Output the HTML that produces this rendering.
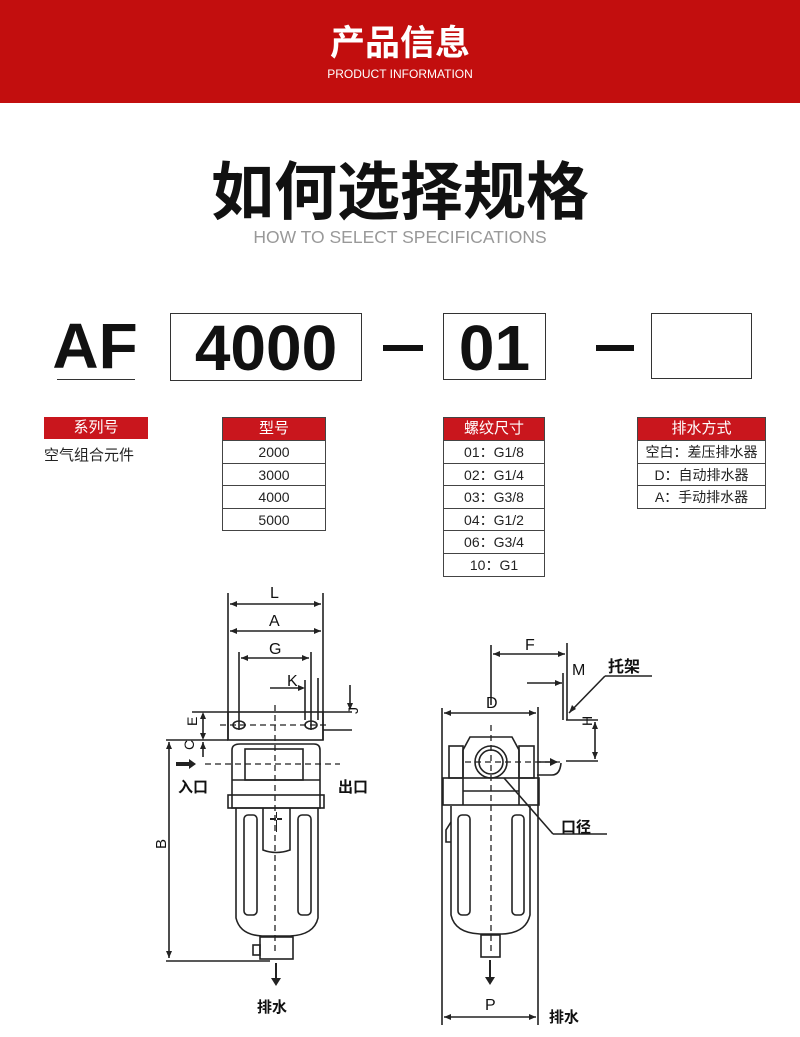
<!DOCTYPE html>
<html><head><meta charset="utf-8"><style>
body{margin:0;width:800px;height:1037px;background:#fff;position:relative;overflow:hidden;font-family:"Liberation Sans","Noto Sans CJK SC",sans-serif;}
.a{position:absolute;}
.hdr{left:0;top:0;width:800px;height:103px;background:#c20e0e;}
.box{position:absolute;border:1px solid #333;box-sizing:border-box;}
.big{font-weight:bold;font-size:64px;line-height:1;text-align:center;color:#111;}
.tb{position:absolute;border:1px solid #444;box-sizing:border-box;font-size:14px;color:#222;}
.tb div{height:22.6px;line-height:22px;border-top:1px solid #444;text-align:center;box-sizing:border-box;}
.tb div.h{background:#c9161d;color:#fff;border-top:none;font-size:15px;height:22px;}
</style></head><body>
<div class="a hdr"></div>
<div class="a" style="left:0;width:800px;top:22px;text-align:center;color:#fff;font-size:35px;font-weight:bold;line-height:44px;">产品信息</div>
<div class="a" style="left:0;width:800px;top:67px;text-align:center;color:#fff;font-size:12px;">PRODUCT INFORMATION</div>
<div class="a" style="left:0;width:800px;top:157px;text-align:center;color:#111;font-size:63px;font-weight:bold;line-height:72px;">如何选择规格</div>
<div class="a" style="left:0;width:800px;top:227px;text-align:center;color:#999;font-size:17.5px;">HOW TO SELECT SPECIFICATIONS</div>

<div class="a big" style="left:50px;top:314px;width:90px;">AF</div>
<div class="a" style="left:57px;top:379px;width:78px;height:1px;background:#333;"></div>
<div class="box big" style="left:170px;top:313px;width:192px;height:68px;padding-top:2px;">4000</div>
<div class="a" style="left:383px;top:345px;width:40px;height:6px;background:#111;"></div>
<div class="box big" style="left:443px;top:313px;width:103px;height:67px;padding-top:2px;">01</div>
<div class="a" style="left:596px;top:345px;width:38px;height:6px;background:#111;"></div>
<div class="box" style="left:651px;top:313px;width:101px;height:66px;"></div>

<div class="tb" style="left:44px;top:417px;width:104px;border:none;"><div class="h">系列号</div></div>
<div class="a" style="left:44px;top:444px;font-size:15px;color:#222;">空气组合元件</div>
<div class="tb" style="left:222px;top:417px;width:104px;"><div class="h">型号</div><div>2000</div><div>3000</div><div>4000</div><div>5000</div></div>
<div class="tb" style="left:443px;top:417px;width:102px;"><div class="h">螺纹尺寸</div><div>01：G1/8</div><div>02：G1/4</div><div>03：G3/8</div><div>04：G1/2</div><div>06：G3/4</div><div>10：G1</div></div>
<div class="tb" style="left:637px;top:417px;width:129px;"><div class="h">排水方式</div><div>空白：差压排水器</div><div>D：自动排水器</div><div>A：手动排水器</div></div>

<svg class="a" style="left:0;top:0" width="800" height="1037" viewBox="0 0 800 1037" font-family="Liberation Sans,Noto Sans CJK SC,sans-serif" fill="none" stroke="#222" stroke-width="1.6">
<g>
<line x1="228" y1="593" x2="228" y2="740"/><line x1="323" y1="593" x2="323" y2="740"/>
<line x1="230" y1="604" x2="321" y2="604"/><line x1="230" y1="631" x2="321" y2="631"/>
<line x1="239" y1="652" x2="239" y2="730"/><line x1="311" y1="652" x2="311" y2="730"/>
<line x1="241" y1="658" x2="309" y2="658"/>
<line x1="270" y1="688" x2="303" y2="688"/><line x1="305" y1="680" x2="305" y2="720"/><line x1="318" y1="678" x2="318" y2="720"/>
<line x1="350" y1="685" x2="350" y2="708"/><line x1="323" y1="730" x2="352" y2="730"/>
<line x1="323" y1="712" x2="352" y2="712"/>
<rect x="228" y="712" width="95" height="28"/>
<ellipse cx="239" cy="725" rx="6" ry="4"/><ellipse cx="311" cy="725" rx="6" ry="4"/>
<line x1="192" y1="712" x2="228" y2="712"/><line x1="166" y1="740" x2="228" y2="740"/>
<line x1="203" y1="714" x2="203" y2="738"/><line x1="203" y1="742" x2="203" y2="757"/>
<line x1="169" y1="742" x2="169" y2="958"/><line x1="166" y1="961" x2="270" y2="961"/>
<path d="M232 808 V750 Q232 744 240 744 H314 Q320 744 320 750 V808 Z"/>
<line x1="232" y1="780" x2="320" y2="780"/>
<rect x="245" y="749" width="58" height="31"/>
<rect x="228" y="795" width="96" height="13"/>
<path d="M236 808 V918 Q240 935 262 936 H290 Q314 935 318 918 V808"/>
<rect x="244" y="815" width="13" height="100" rx="4"/><rect x="298" y="815" width="13" height="100" rx="4"/>
<path d="M263 808 V850 Q276 855 290 850 V808"/>
<rect x="260" y="937" width="33" height="22"/><rect x="253" y="945" width="7" height="10"/>
<g stroke-dasharray="6 4" stroke-width="1.3"><line x1="275" y1="705" x2="275" y2="955"/><line x1="205" y1="764" x2="340" y2="764"/><line x1="220" y1="725" x2="330" y2="725"/></g>
<line x1="276" y1="963" x2="276" y2="980" stroke-width="2"/>
</g>
<g fill="#222" stroke="none">
<path d="M230 604 l7 -3 v6z M321 604 l-7 -3 v6z M230 631 l7 -3 v6z M321 631 l-7 -3 v6z M241 658 l7 -3 v6z M309 658 l-7 -3 v6z M305 688 l-7 -3 v6z M350 710 l-3 -7 h6z M203 712 l-3 7 h6z M203 740 l-3 -7 h6z M203 742 l-3 7 h6z M169 742 l-3 7 h6z M169 958 l-3 -7 h6z M276 986 l-5 -8 h10z M196 764 l-7 -5 v10z"/>
<rect x="176" y="762" width="14" height="4"/>
<path d="M270 818 h12 v2 h-12z M276 812 v20 h1 v-20z"/>
</g>
<g fill="#111" stroke="none" font-size="16">
<text x="270" y="598">L</text><text x="269" y="626">A</text><text x="269" y="654">G</text><text x="287" y="686">K</text>
<text x="346" y="714" font-size="14" transform="rotate(-90 352 708)">J</text>
<text x="191" y="732" font-size="14" transform="rotate(-90 191 726)">E</text>
<text x="190" y="754" font-size="14" transform="rotate(-90 190 750)">C</text>
<text x="163" y="858" font-size="15" transform="rotate(-90 160 852)">B</text>
<text x="178" y="792" font-size="15" font-weight="bold">入口</text><text x="338" y="792" font-size="15" font-weight="bold">出口</text>
<text x="257" y="1012" font-size="15" font-weight="bold">排水</text>
</g>
<g>
<line x1="491" y1="645" x2="491" y2="705"/><line x1="567" y1="643" x2="567" y2="720"/>
<line x1="493" y1="654" x2="565" y2="654"/>
<line x1="527" y1="683" x2="562" y2="683"/><line x1="563" y1="673" x2="563" y2="720"/>
<line x1="569" y1="713" x2="605" y2="676"/><line x1="605" y1="676" x2="652" y2="676"/>
<line x1="442" y1="708" x2="442" y2="1025"/><line x1="538" y1="707" x2="538" y2="1025"/>
<line x1="444" y1="713" x2="536" y2="713"/><line x1="444" y1="1017" x2="536" y2="1017"/>
<line x1="566" y1="720" x2="598" y2="720"/><line x1="566" y1="761" x2="598" y2="761"/>
<line x1="595" y1="722" x2="595" y2="759"/>
<path d="M463 805 V750 L470 737 H512 L519 750 V805"/>
<rect x="449" y="746" width="14" height="32"/><rect x="519" y="746" width="15" height="32"/>
<rect x="443" y="778" width="96" height="27"/>
<line x1="463" y1="791" x2="519" y2="791"/>
<circle cx="491" cy="762" r="16"/><circle cx="491" cy="762" r="12"/>
<path d="M451 806 V915 Q455 933 480 934 H502 Q526 933 530 915 V806"/>
<rect x="458" y="815" width="12" height="100" rx="4"/><rect x="512" y="815" width="12" height="100" rx="4"/>
<path d="M451 822 l-5 8 v12 h5"/>
<rect x="481" y="935" width="19" height="22"/>
<line x1="504" y1="778" x2="553" y2="834"/><line x1="553" y1="834" x2="607" y2="834"/>
<g stroke-dasharray="6 4" stroke-width="1.3"><line x1="491" y1="725" x2="491" y2="955"/><line x1="465" y1="762" x2="560" y2="762"/></g>
<line x1="490" y1="960" x2="490" y2="978" stroke-width="2"/>
<path d="M537 762 h20 M537 775 h15 q8 0 9 -12"/>
</g>
<g fill="#222" stroke="none">
<path d="M493 654 l7 -3 v6z M565 654 l-7 -3 v6z M562 683 l-7 -3 v6z M444 713 l7 -3 v6z M536 713 l-7 -3 v6z M444 1017 l7 -3 v6z M536 1017 l-7 -3 v6z M595 722 l-3 7 h6z M595 759 l-3 -7 h6z M569 713 l3 -8 l4 4z M490 985 l-5 -8 h10z M558 762 l-8 -4 v8z"/>
</g>
<g fill="#111" stroke="none" font-size="16">
<text x="525" y="650">F</text><text x="572" y="675">M</text><text x="608" y="672" font-size="16" font-weight="bold">托架</text>
<text x="486" y="708">D</text><text x="600" y="746" font-size="14" transform="rotate(-90 586 740)">H</text>
<text x="561" y="832" font-size="15" font-weight="bold">口径</text>
<text x="485" y="1010">P</text><text x="549" y="1022" font-size="15" font-weight="bold">排水</text>
</g>
</svg>
</body></html>
